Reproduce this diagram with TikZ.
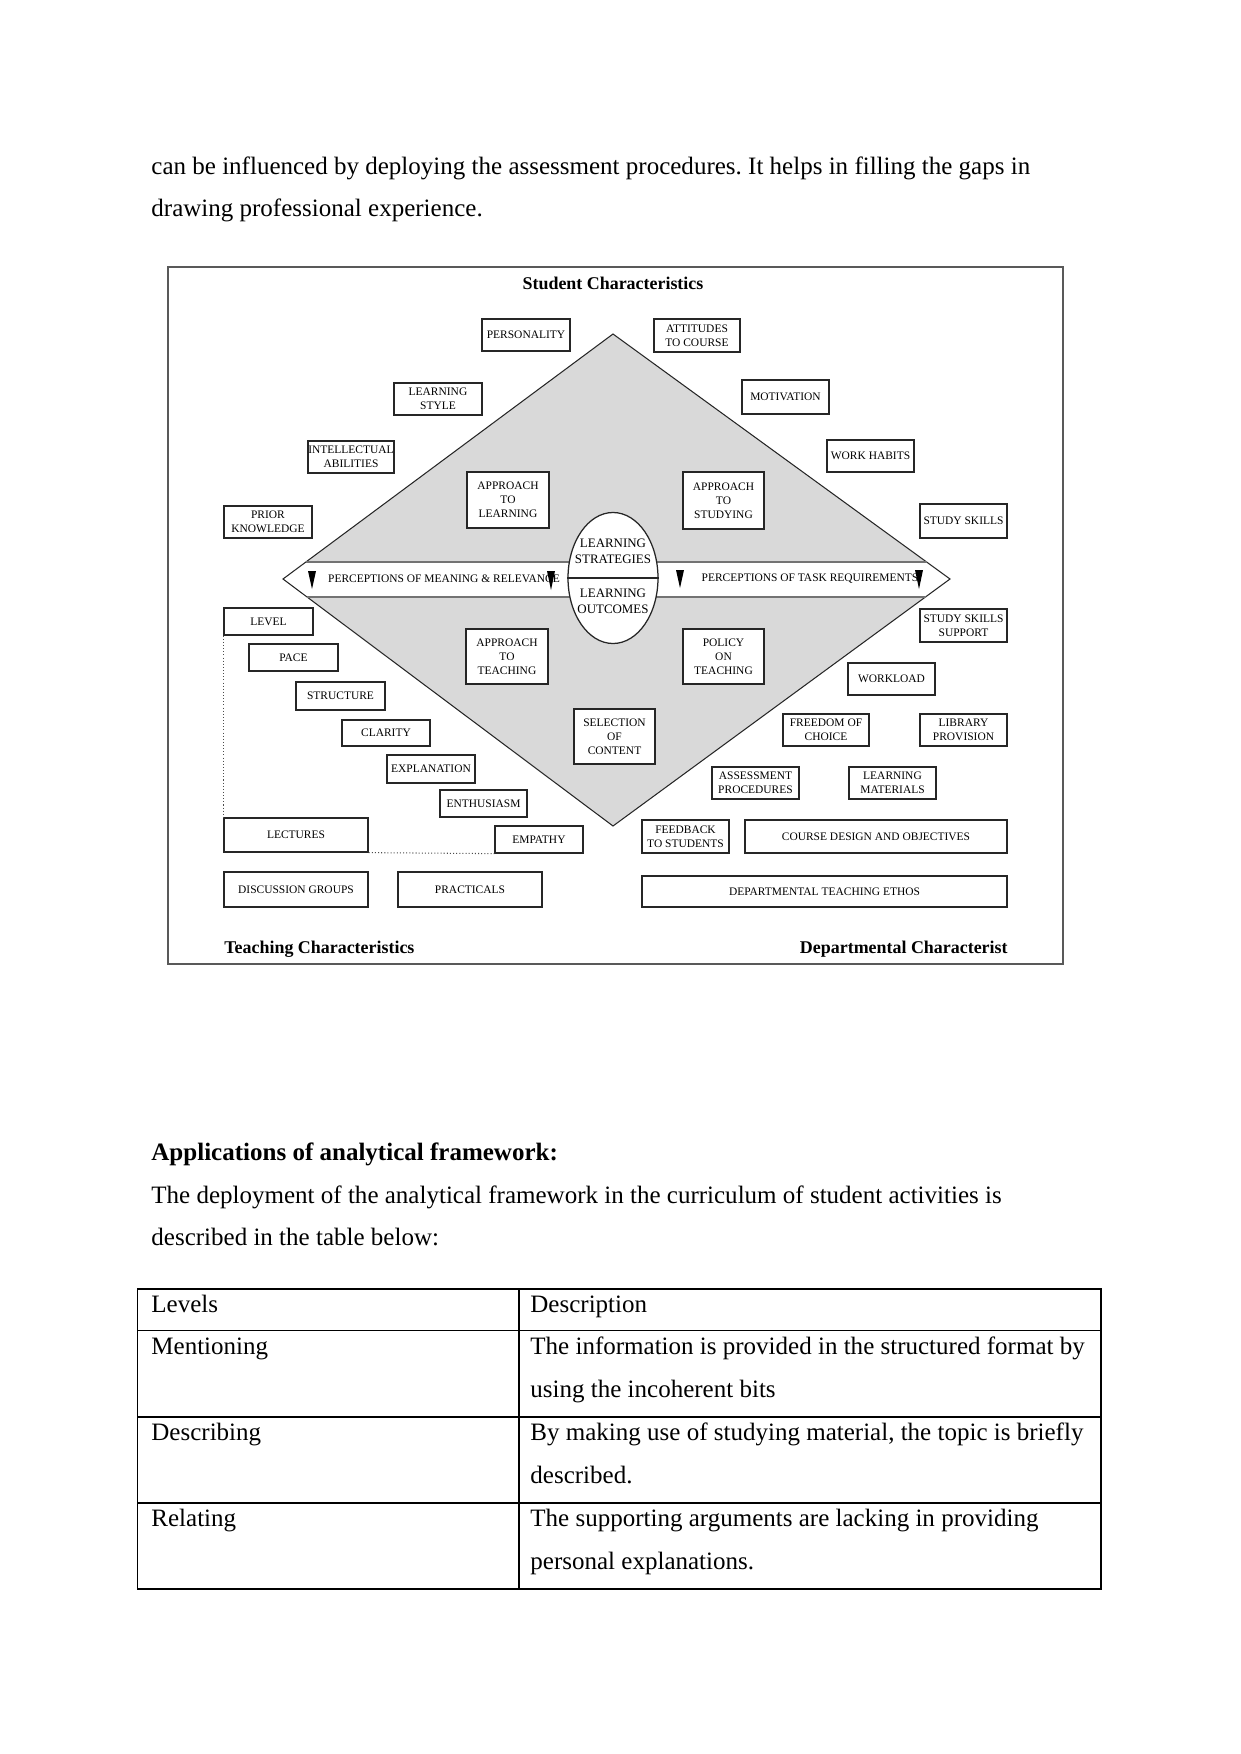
\documentclass[tikz,border=0pt]{standalone}
\usepackage{fontspec}
\setmainfont{Liberation Serif}
\usepackage{tikz}
\usetikzlibrary{shapes.geometric}
\frenchspacing
\newcommand{\boxfont}{\fontsize{5.5}{6.8}\selectfont}
\newcommand{\hubfont}{\fontsize{6.2}{7.5}\selectfont}
\newcommand{\headfont}{\fontsize{8.6}{10}\selectfont\bfseries}
\newcommand{\pagefont}{\fontsize{12}{14}\selectfont}
\tikzset{
  factor/.style={draw=black!85, rectangle, line width=0.6pt, fill=white, align=center, font=\boxfont, inner sep=0pt},
  wh/.style 2 args={minimum width=#1*0.4797pt, minimum height=#2*0.4797pt},
  hub/.style={draw=black!85, ellipse, fill=white, line width=0.6pt, inner sep=0pt},
  hubtext/.style={align=center, font=\hubfont, inner sep=0pt},
  band/.style={font=\boxfont, inner sep=0pt},
  head/.style={font=\headfont, inner sep=0pt},
  body/.style={font=\pagefont, anchor=base west, inner sep=0pt},
  frame/.style={draw=black!65, line width=0.8pt},
  edge/.style={draw=black!85, line width=0.5pt},
  bandline/.style={draw=black!55, line width=0.6pt},
  link/.style={densely dotted, black!70, line width=0.5pt},
  rule/.style={draw=black, line width=0.5pt}
}
\begin{document}
\begin{tikzpicture}[x=0.4797pt, y=-0.4797pt]
    \fill[white] (0,0) rectangle (1241,1754);
    \useasboundingbox (0,0) rectangle (1241,1754);

    % running text above the figure
    \node[body] (line1) at (151,174) {can be influenced by deploying the assessment procedures. It helps in filling the gaps in};
    \node[body] (line2) at (151,216) {drawing professional experience.};

    % figure frame and titles
    \draw[frame] (168,267) rectangle (1063,964);
    \node[head, anchor=base] (student) at (613,289) {Student Characteristics};
    \node[head, anchor=base west] (teaching) at (224,953) {Teaching Characteristics};
    \node[head, anchor=base east] (dept) at (1008,953) {Departmental Characterist};

    % diamond with the white band
    \coordinate (dtop) at (613,334);
    \coordinate (dright) at (950,579);
    \coordinate (dbottom) at (613,826);
    \coordinate (dleft) at (283,579);
    \fill[gray!30] (dtop) -- (dright) -- (dbottom) -- (dleft) -- cycle;
    \fill[white] (306,562) -- (dleft) -- (307,597) -- (926,597) -- (dright) -- (927,562) -- cycle;
    \draw[edge] (dtop) -- (dright) -- (dbottom) -- (dleft) -- cycle;
    \draw[bandline] (306,562) -- (927,562);
    \draw[bandline] (307,597) -- (926,597);

    \node[hub, wh={90}{131}] (core) at (613,578) {};
    \draw[edge] (core.west) -- (core.east);
    \node[hubtext] (strategies) at (613,551) {LEARNING\\STRATEGIES};
    \node[hubtext] (outcomes) at (613,601) {LEARNING\\OUTCOMES};

    \node[band] (meaning) at (444,579) {PERCEPTIONS OF MEANING \& RELEVANCE};
    \node[band] (task) at (810,579) {PERCEPTIONS OF TASK REQUIREMENTS};
    \fill (308,571) -- (316,571) -- (312,589) -- cycle;
    \fill (547,571) -- (555,571) -- (551,590) -- cycle;
    \fill (676,570) -- (684,570) -- (680,588) -- cycle;
    \fill (915,570) -- (923,570) -- (919,589) -- cycle;

    % student side
    \node[factor, wh={88}{32}] (personality) at (526,335) {PERSONALITY};
    \node[factor, wh={88}{32}] (lstyle) at (438,399) {LEARNING\\STYLE};
    \node[factor, wh={86}{32}] (intellect) at (351,457) {INTELLECTUAL\\ABILITIES};
    \node[factor, wh={88}{32}] (prior) at (268,522) {PRIOR\\KNOWLEDGE};
    \node[factor, wh={82}{56}] (applearn) at (508,500) {APPROACH\\TO\\LEARNING};
    \node[factor, wh={86}{33}] (attitudes) at (697,335.5) {ATTITUDES\\TO COURSE};
    \node[factor, wh={87}{34}] (motivation) at (785.5,397) {MOTIVATION};
    \node[factor, wh={87}{32}] (habits) at (870.5,456) {WORK HABITS};
    \node[factor, wh={87}{34}] (skills) at (963.5,521) {STUDY SKILLS};
    \node[factor, wh={81}{57}] (appstudy) at (723.5,500.5) {APPROACH\\TO\\STUDYING};

    % teaching side
    \node[factor, wh={89}{27}] (level) at (268.5,621.5) {LEVEL};
    \node[factor, wh={89}{27}] (pace) at (293.5,657.5) {PACE};
    \node[factor, wh={89}{28}] (structure) at (340.5,696) {STRUCTURE};
    \node[factor, wh={88}{26}] (clarity) at (386,733) {CLARITY};
    \node[factor, wh={88}{28}] (explanation) at (431,769) {EXPLANATION};
    \node[factor, wh={87}{27}] (enthusiasm) at (483.5,803.5) {ENTHUSIASM};
    \node[factor, wh={88}{27}] (empathy) at (539,839.5) {EMPATHY};
    \node[factor, wh={144}{34}] (lectures) at (296,835) {LECTURES};
    \node[factor, wh={144}{35}] (discussion) at (296,889.5) {DISCUSSION GROUPS};
    \node[factor, wh={144}{35}] (practicals) at (470,889.5) {PRACTICALS};
    \node[factor, wh={82}{55}] (appteach) at (507,656.5) {APPROACH\\TO\\TEACHING};
    \node[factor, wh={81}{55}] (selection) at (614.5,736.5) {SELECTION\\OF\\CONTENT};
    \draw[link] (level.south west) -- (lectures.north west);
    \draw[link] (lectures.south east) -- (empathy.south west);

    % departmental side
    \node[factor, wh={81}{55}] (policy) at (723.5,656.5) {POLICY\\ON\\TEACHING};
    \node[factor, wh={87}{33}] (support) at (963.5,625.5) {STUDY SKILLS\\SUPPORT};
    \node[factor, wh={87}{32}] (workload) at (891.5,679) {WORKLOAD};
    \node[factor, wh={86}{32}] (freedom) at (826,730) {FREEDOM OF\\CHOICE};
    \node[factor, wh={87}{32}] (library) at (963.5,730) {LIBRARY\\PROVISION};
    \node[factor, wh={87}{32}] (assessment) at (755.5,783) {ASSESSMENT\\PROCEDURES};
    \node[factor, wh={87}{32}] (materials) at (892.5,783) {LEARNING\\MATERIALS};
    \node[factor, wh={87}{33}] (feedback) at (685.5,836.5) {FEEDBACK\\TO STUDENTS};
    \node[factor, wh={262}{33}] (course) at (876,836.5) {COURSE DESIGN AND OBJECTIVES};
    \node[factor, wh={365}{31}] (ethos) at (824.5,891.5) {DEPARTMENTAL TEACHING ETHOS};

    % text and table below the figure
    \node[body, font=\pagefont\bfseries] (apphead) at (151,1160) {Applications of analytical framework:};
    \node[body] (intro1) at (151,1203) {The deployment of the analytical framework in the curriculum of student activities is};
    \node[body] (intro2) at (151,1245) {described in the table below:};

    \draw[rule] (137.6,1289) rectangle (1101,1589);
    \draw[rule] (519,1289) -- (519,1589);
    \draw[rule] (137.6,1330.5) -- (1101,1330.5);
    \draw[rule, line width=1pt] (137.6,1417) -- (1101,1417);
    \draw[rule] (137.6,1503) -- (1101,1503);

    \node[body] (levels) at (151,1312) {Levels};
    \node[body] (description) at (530,1312) {Description};
    \node[body] (mentioning) at (151,1354) {Mentioning};
    \node[body] (mention1) at (530,1354) {The information is provided in the structured format by};
    \node[body] (mention2) at (530,1397) {using the incoherent bits};
    \node[body] (describing) at (151,1440) {Describing};
    \node[body] (describe1) at (530,1440) {By making use of studying material, the topic is briefly};
    \node[body] (describe2) at (530,1483) {described.};
    \node[body] (relating) at (151,1526) {Relating};
    \node[body] (relate1) at (530,1526) {The supporting arguments are lacking in providing};
    \node[body] (relate2) at (530,1569) {personal explanations.};
\end{tikzpicture}
\end{document}
